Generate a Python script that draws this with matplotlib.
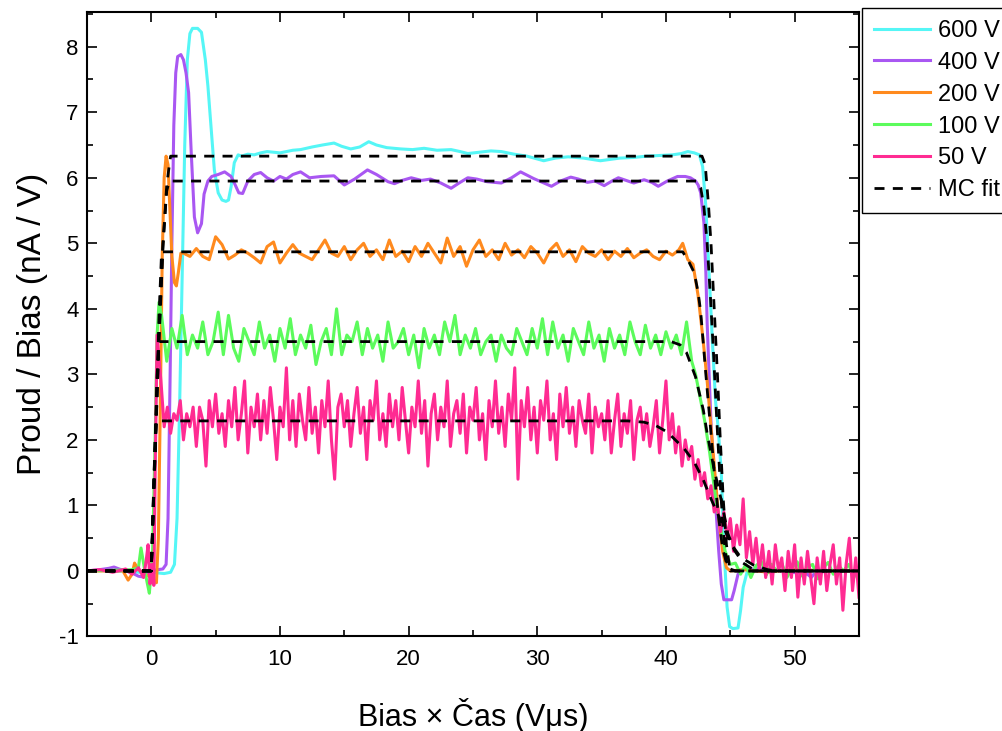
import numpy as np
import matplotlib
matplotlib.use('Agg')
import matplotlib.pyplot as plt

plt.rcParams['font.family'] = ['Liberation Sans', 'DejaVu Sans']
plt.rcParams['axes.unicode_minus'] = False

# ---- 600 V (smooth) ----
x_600 = [-5, -4, -3, -2, -1, 0, 0.5, 1.0, 1.5, 1.8, 2.0, 2.2, 2.4, 2.6, 2.8, 3.0, 3.2, 3.6, 3.9,
         4.2, 4.4, 4.7, 4.9, 5.2, 5.5, 5.8, 6.0, 6.2, 6.45, 6.75, 7.0, 7.5, 8.0, 8.5, 9.0, 10.0,
         11.0, 11.6, 12.5, 13.3, 14.2, 14.8, 15.5, 16.2, 16.9, 17.5, 18.3, 19.4, 20.3, 21.2,
         22.2, 23.3, 24.0, 24.6, 25.5, 26.4, 27.2, 28.2, 29.2, 30.5, 31.4, 32.4, 33.6, 34.9,
         36.4, 37.5, 38.5, 39.5, 40.5, 41.2, 41.7, 42.2, 42.6, 42.85, 43.1, 43.35, 43.6, 43.85,
         44.05, 44.3, 44.5, 44.75, 44.95, 45.2, 45.6, 45.8, 46.0, 46.3, 47.0, 48.5, 50.0, 52.0, 55.0]
y_600 = [0.0, 0.01, -0.01, 0.0, -0.02, -0.02, -0.03, -0.04, -0.02, 0.1, 0.8, 2.5, 4.5, 6.5, 7.8, 8.2, 8.28, 8.28, 8.22,
         7.8, 7.4, 6.63, 6.12, 5.77, 5.66, 5.64, 5.66, 5.86, 6.23, 6.35, 6.33, 6.36, 6.35, 6.38, 6.4, 6.38,
         6.42, 6.43, 6.47, 6.5, 6.53, 6.48, 6.44, 6.47, 6.55, 6.5, 6.46, 6.44, 6.43, 6.45,
         6.42, 6.43, 6.4, 6.37, 6.39, 6.41, 6.4, 6.36, 6.33, 6.26, 6.3, 6.32, 6.3, 6.26,
         6.3, 6.31, 6.33, 6.34, 6.35, 6.37, 6.4, 6.38, 6.35, 6.17, 5.56, 4.55, 3.53, 2.6,
         2.2, 1.5, 0.4, -0.55, -0.85, -0.88, -0.87, -0.6, -0.25, -0.02, 0.04, 0.02, 0.0, 0.01, 0.0]

# ---- 400 V (smooth) ----
x_400 = [-5, -4, -3.3, -2.9, -2.5, -2.0, -1.5, -1.0, -0.7, -0.3, 0, 0.5, 0.9, 1.15, 1.3, 1.45, 1.6,
         1.75, 1.9, 2.05, 2.3, 2.5, 2.7, 2.9, 3.1, 3.35, 3.6, 3.9, 4.1, 4.4, 4.7, 5.2, 5.7, 6.2, 6.5,
         6.8, 7.1, 7.5, 8.0, 8.5, 9.0, 9.5, 10.0, 10.5, 11.0, 11.6, 12.3, 13.2, 14.2, 15.0, 15.8,
         16.8, 17.5, 18.4, 18.9, 19.5, 20.2, 21.0, 21.7, 22.5, 23.3, 24.0, 24.6, 25.3, 26.1, 27.2,
         28.0, 28.7, 29.7, 30.4, 31.1, 31.8, 32.6, 33.2, 33.9, 34.5, 35.2, 35.8, 36.3, 36.9, 37.5,
         38.3, 38.9, 39.4, 40.1, 40.9, 41.5, 41.9, 42.3, 42.5, 42.7, 42.95, 43.1, 43.2, 43.35, 43.5,
         43.8, 44.1, 44.3, 44.5, 45.1, 45.3, 45.6, 46.0, 47.0, 49.0, 51.0, 51.3, 51.6, 53.0, 55.0]
y_400 = [0.0, 0.02, 0.04, 0.06, 0.03, 0.0, -0.03, -0.08, -0.09, -0.05, 0.0, 0.02, 0.03, 0.1, 0.8, 2.8, 5.0,
         6.8, 7.6, 7.85, 7.88, 7.8, 7.6, 7.3, 6.4, 5.4, 5.16, 5.3, 5.75, 5.95, 6.02, 6.05, 6.09, 6.02, 5.9,
         5.77, 5.76, 5.95, 6.05, 6.08, 6.0, 5.95, 6.02, 5.98, 6.05, 6.09, 6.0, 6.02, 6.03, 5.89, 5.98,
         6.12, 6.05, 5.94, 5.91, 5.96, 6.0, 5.96, 5.98, 5.92, 5.84, 5.93, 6.0, 5.98, 5.94, 5.92,
         6.0, 6.09, 5.99, 5.93, 5.87, 5.95, 6.01, 5.98, 5.93, 5.95, 5.88, 5.95, 6.0, 5.96, 5.92,
         5.97, 5.93, 5.87, 5.95, 6.02, 6.02, 6.0, 5.95, 5.89, 5.77, 5.31, 4.55, 3.79, 3.02, 2.26,
         1.2, 0.3, -0.2, -0.44, -0.44, -0.3, -0.05, 0.02, 0.03, 0.0, -0.05, -0.1, -0.02, 0.0, 0.0]

# ---- 200 V ----
x_200_rise = [-5, -3, -2.2, -1.8, -1.5, -1.3, -1.0, -0.5, 0.0, 0.4, 0.55, 0.7, 0.85, 1.0, 1.15,
              1.3, 1.45, 1.6, 1.8, 1.95, 2.1, 2.3]
y_200_rise = [0.0, 0.0, 0.0, -0.14, -0.05, 0.12, 0.02, -0.05, -0.1, -0.18, 0.5, 2.5, 4.8, 6.0, 6.33,
              6.2, 5.5, 4.8, 4.4, 4.35, 4.55, 4.85]
x_200_start, x_200_step = 2.5, 0.5
y_200_plateau = [4.85, 4.8, 4.92, 4.8, 4.75, 5.1, 4.98, 4.76, 4.82, 4.9, 4.85, 4.78, 4.7, 4.95,
                 5.02, 4.7, 4.85, 4.98, 4.85, 4.8, 4.75, 4.9, 5.05, 4.85, 4.8, 4.95, 4.75, 4.9,
                 5.0, 4.8, 4.9, 4.75, 5.05, 4.8, 4.88, 4.72, 4.95, 4.8, 5.0, 4.85, 4.7, 5.08,
                 4.8, 4.95, 4.65, 4.9, 5.05, 4.8, 4.9, 4.75, 5.0, 4.82, 4.9, 4.78, 4.95, 4.85,
                 4.7, 4.9, 5.0, 4.8, 4.9, 4.72, 4.95, 4.85, 4.8, 4.9, 4.75, 4.88, 4.8, 4.92,
                 4.78, 4.85, 4.9, 4.8, 4.75, 4.88, 4.82, 4.9]
x_200_fall = [41.3, 41.7, 42.1, 42.5, 42.9, 43.2, 43.5, 43.8, 44.1, 44.4, 44.7, 45.0, 46.0,
              48.0, 50.0, 52.0, 55.0]
y_200_fall = [5.0, 4.75, 4.68, 4.2, 3.5, 2.9, 2.2, 1.5, 0.8, 0.3, 0.05, 0.0, 0.02,
              -0.02, 0.03, 0.0, 0.0]

# ---- 100 V ----
x_100_rise = [-5, -3, -1.5, -1.0, -0.8, -0.5, -0.3, -0.15, 0.1, 0.3, 0.45, 0.6]
y_100_rise = [0.0, 0.01, 0.02, 0.05, 0.35, 0.0, -0.2, -0.34, 0.3, 2.0, 3.6, 4.1]
x_100_start, x_100_step = 0.8, 0.4
y_100_plateau = [3.9, 3.2, 3.7, 3.4, 3.9, 3.3, 3.6, 3.4, 3.8, 3.3, 3.5, 3.95, 3.3, 3.9, 3.4,
                 3.2, 3.7, 3.5, 3.3, 3.8, 3.4, 3.6, 3.2, 3.7, 3.4, 3.85, 3.3, 3.6, 3.4, 3.75,
                 3.15, 3.5, 3.7, 3.3, 4.0, 3.3, 3.6, 3.5, 3.8, 3.3, 3.7, 3.4, 3.6, 3.2, 3.8,
                 3.4, 3.5, 3.7, 3.3, 3.6, 3.1, 3.7, 3.4, 3.6, 3.3, 3.8, 3.5, 3.9, 3.3, 3.6,
                 3.4, 3.7, 3.3, 3.5, 3.6, 3.2, 3.6, 3.4, 3.3, 3.7, 3.5, 3.3, 3.7, 3.4, 3.85,
                 3.3, 3.8, 3.4, 3.6, 3.2, 3.7, 3.5, 3.3, 3.8, 3.4, 3.6, 3.2, 3.7, 3.4, 3.6,
                 3.3, 3.8, 3.5, 3.3, 3.75, 3.4, 3.6, 3.3, 3.65, 3.4, 3.6, 3.3, 3.8, 3.2]
x_100_fall = [42.3, 42.6, 43.0, 43.4, 43.8, 44.2, 44.6, 45.0]
y_100_fall = [3.0, 2.7, 2.3, 1.8, 1.2, 0.7, 0.3, 0.1]
x_100_tail_start, x_100_tail_step = 45.4, 0.4
y_100_tail = [0.12, -0.05, 0.1, -0.1, 0.08, 0.15, -0.06, 0.1, 0.0, 0.12, -0.1, 0.05, 0.14,
              -0.08, 0.06, 0.1, -0.12, 0.04, 0.13, -0.05, 0.08, 0.0, 0.1, -0.1, 0.05]

# ---- 50 V ----
x_50_rise = [-5, -4, -3, -2, -1.5, -1, -0.6, -0.4, -0.25, -0.1, 0.05, 0.2, 0.3, 0.45]
y_50_rise = [0.0, 0.02, -0.02, 0.03, -0.05, 0.05, -0.1, 0.15, 0.4, -0.2, 0.1, -0.22, 1.5, 3.6]
x_50_start, x_50_step = 0.75, 0.25
y_50_rest = [2.9,
             2.2, 2.5, 2.1, 2.4, 2.3, 2.6, 2.0, 2.4, 2.2, 2.5, 1.9, 2.5, 2.3, 1.6, 2.6, 2.2,
             2.7, 2.1, 2.4, 1.9, 2.6, 2.2, 2.8, 2.0, 2.4, 2.9, 1.8, 2.5, 2.2, 2.7, 2.0, 2.6,
             2.1, 2.8, 2.3, 1.7, 2.5, 2.2, 3.1, 2.0, 2.6, 1.9, 2.7, 2.3, 2.0, 2.8, 2.1, 2.5,
             1.8, 2.6, 2.2, 2.9, 2.0, 1.4, 2.5, 2.7, 2.2, 2.6, 1.9, 2.4, 2.8, 2.1, 2.5, 1.7,
             2.6, 2.3, 2.9, 2.0, 2.4, 1.9, 2.7, 2.2, 2.6, 2.0, 2.8, 2.3, 1.8, 2.5, 2.2, 2.9,
             2.1, 2.6, 1.6, 2.4, 2.7, 2.0, 2.5, 2.2, 2.9, 1.9, 2.4, 2.6, 2.1, 2.7, 1.8, 2.5,
             2.3, 2.8, 2.0, 2.4, 1.7, 2.6, 2.2, 2.9, 2.1, 2.5, 1.9, 2.7, 2.3, 3.1, 1.4, 2.6,
             2.2, 2.8, 2.0, 2.5, 1.8, 2.6, 2.3, 2.9, 2.0, 2.4, 1.7, 2.7, 2.2, 2.8, 2.1, 2.5,
             1.9, 2.6, 2.3, 2.1, 2.7, 1.8, 2.5, 2.2, 2.4, 2.0, 2.6, 1.8, 2.3, 2.7, 1.9, 2.4,
             2.1, 2.6, 1.7, 2.3, 2.5, 2.0, 2.4, 1.9, 2.2, 2.6, 1.8, 2.3, 2.9, 2.0, 2.4, 1.8,
             2.2, 1.6, 2.0, 1.7, 1.9, 1.4, 1.7, 1.3, 1.5, 1.1, 1.3, 0.9, 1.0, 0.6, 0.9, 0.5,
             0.8, 0.3, 0.7, 0.4, 1.1, 0.2, 0.6, 0.1, 0.5, 0.0, 0.4, -0.1, 0.3, -0.2, 0.4, 0.0,
             0.2, -0.3, 0.3, -0.1, 0.4, -0.4, 0.2, -0.2, 0.3, -0.1, -0.5, 0.2, -0.2, 0.3, -0.3, 0.1,
             0.4, -0.2, 0.2, -0.6, 0.1, 0.5, -0.3, 0.2,
             -0.4]

# ---- MC fits ----
fit_600_x = [-5, 0, 0.3, 0.6, 0.9, 1.2, 1.5, 42.8, 43.05, 43.3, 43.5, 43.75, 44.0, 44.2, 44.45, 44.7, 44.95, 45.2, 55]
fit_600_y = [0, 0, 1.8, 3.5, 4.9, 5.9, 6.33, 6.33, 6.2, 5.6, 5.0, 4.0, 3.0, 2.1, 1.1, 0.4, 0.05, 0.0, 0.0]
fit_400_x = [-5, 0, 0.3, 0.6, 0.9, 1.2, 1.4, 42.4, 42.7, 42.95, 43.2, 43.45, 43.7, 43.95, 44.2, 44.45, 44.7, 45.0, 55]
fit_400_y = [0, 0, 1.8, 3.6, 5.0, 5.8, 5.95, 5.95, 5.85, 5.55, 5.0, 4.2, 3.3, 2.3, 1.4, 0.6, 0.15, 0.0, 0.0]
fit_200_x = [-5, 0, 0.2, 0.4, 0.6, 0.8, 41.3, 41.8, 42.2, 42.5, 42.7, 43.1, 43.5, 43.8, 44.1, 44.4, 44.7, 45.0, 45.4, 55]
fit_200_y = [0, 0, 1.3, 2.5, 3.9, 4.87, 4.87, 4.71, 4.55, 4.25, 3.95, 3.0, 2.1, 1.4, 0.8, 0.35, 0.12, 0.03, 0.0, 0.0]
fit_100_x = [-5, 0, 0.15, 0.3, 0.45, 0.6, 40.4, 41.1, 41.6, 42.3, 42.9, 43.2, 43.7, 44.3, 44.8, 45.3, 46.0, 46.8, 47.3, 55]
fit_100_y = [0, 0, 1.0, 2.0, 3.0, 3.5, 3.5, 3.45, 3.33, 2.96, 2.46, 2.1, 1.59, 1.08, 0.58, 0.32, 0.12, 0.02, 0.0, 0.0]
fit_50_x = [-5, 0, 0.1, 0.2, 0.3, 0.4, 37.0, 38.3, 39.2, 40.1, 41.4, 42.2, 42.9, 43.5, 44.3, 45.0, 45.8, 46.8, 47.9, 48.5, 55]
fit_50_y = [0, 0, 0.7, 1.4, 2.0, 2.29, 2.29, 2.27, 2.22, 2.12, 1.87, 1.66, 1.39, 1.1, 0.75, 0.43, 0.21, 0.09, 0.02, 0.0, 0.0]

colors = {'600': '#55f6f6', '400': '#a957f2', '200': '#ff8a1e', '100': '#5cfb5c', '50': '#ff2b92'}


def regular(start, step, values):
    '''sample times for an evenly sampled stretch of a trace'''
    return list(start + step * np.arange(len(values)))


fig = plt.figure(figsize=(10.03, 7.31), dpi=100)
ax = fig.add_axes([0.0867, 0.1293, 0.7697, 0.8543])

lw = 2.2
ax.plot(x_600, y_600, color=colors['600'], lw=lw, label='600 V')
ax.plot(x_400, y_400, color=colors['400'], lw=lw, label='400 V')
ax.plot(x_200_rise + regular(x_200_start, x_200_step, y_200_plateau) + x_200_fall,
        y_200_rise + y_200_plateau + y_200_fall, color=colors['200'], lw=lw, label='200 V')
ax.plot(x_100_rise + regular(x_100_start, x_100_step, y_100_plateau) + x_100_fall
        + regular(x_100_tail_start, x_100_tail_step, y_100_tail),
        y_100_rise + y_100_plateau + y_100_fall + y_100_tail, color=colors['100'], lw=lw, label='100 V')
ax.plot(x_50_rise + regular(x_50_start, x_50_step, y_50_rest),
        y_50_rise + y_50_rest, color=colors['50'], lw=lw, label='50 V')

#MC fits on top
fits = [(fit_600_x, fit_600_y), (fit_400_x, fit_400_y), (fit_200_x, fit_200_y),
        (fit_100_x, fit_100_y), (fit_50_x, fit_50_y)]
for i, (fx, fy) in enumerate(fits):
    ax.plot(fx, fy, color='black', lw=2.0, dashes=(3.6, 3.0),
            label='MC fit' if i == 0 else None)

ax.set_xlim(-5, 55)
ax.set_ylim(-1, 8.53)
ax.set_xticks([0, 10, 20, 30, 40, 50])
ax.set_xticks([-5, 5, 15, 25, 35, 45, 55], minor=True)
ax.set_yticks(range(-1, 9))
ax.set_yticks(np.arange(-0.5, 8.6, 1.0), minor=True)
ax.tick_params(which='both', direction='in', top=True, right=True, width=1.2, labelsize=16)
ax.tick_params(which='major', length=7)
ax.tick_params(which='minor', length=4)
ax.tick_params(axis='x', pad=9)
ax.tick_params(axis='y', pad=6)
for spine in ax.spines.values():
    spine.set_linewidth(1.5)

ax.set_xlabel('Bias \u00d7 \u010cas (V\u03bcs)', fontsize=22, labelpad=20)
ax.set_ylabel('Proud / Bias (nA / V)', fontsize=24, labelpad=8)

leg = ax.legend(loc='upper left', bbox_to_anchor=(862 / 1003, 1 - 8 / 731),
                bbox_transform=fig.transFigure, fontsize=17, frameon=True, fancybox=False,
                edgecolor='black', framealpha=1, handlelength=2.4, handletextpad=0.3,
                labelspacing=0.42, borderpad=0.5, borderaxespad=0)
leg.get_frame().set_linewidth(1.0)

fig.savefig('out.png', dpi=100)
